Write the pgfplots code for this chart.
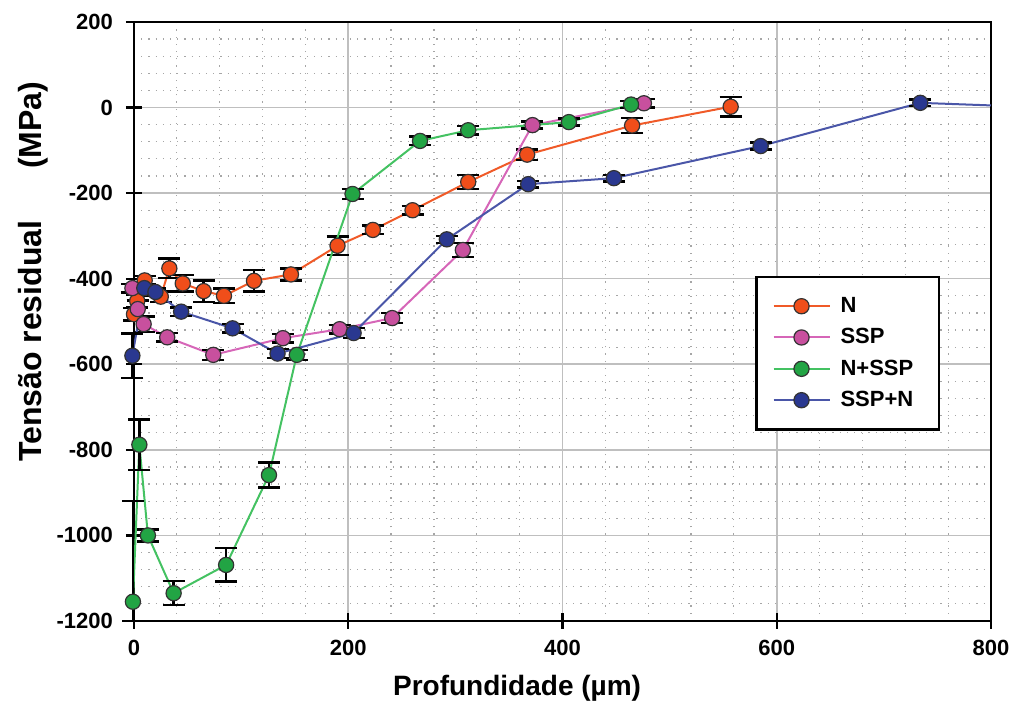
\documentclass[border=0pt]{standalone}
\usepackage{fontspec}
\setmainfont{Liberation Sans}
\usepackage{pgfplots}
\pgfplotsset{compat=1.18}
\usepackage{pgfplotstable}

\definecolor{cN}{HTML}{F05A28}
\definecolor{cNm}{HTML}{F04E1A}
\definecolor{cS}{HTML}{D666B8}
\definecolor{cSm}{HTML}{C8509E}
\definecolor{cG}{HTML}{44C262}
\definecolor{cGm}{HTML}{22A444}
\definecolor{cB}{HTML}{4A56A8}
\definecolor{cBm}{HTML}{2A3890}

\pgfplotstableread{
x y e
0 -483 15
3 -452 15
10 -404 10
25 -442 12
33 -376 23
45.5 -411 19
65 -429 25
84 -440 17
112 -405 25
146.5 -390 14
190 -323 22
223 -286 10
260 -240 10
312 -174 16
367 -110 12
465 -42 17
557 2 23
}\dataN

\pgfplotstableread{
x y e
-1.5 -422 10
3.5 -471 20
9 -506 18
31 -537 10
74 -578 12
139 -539 10
192 -518 10
241 -492 12
307 -333 16
372 -41 8
476 10 10
}\dataS

\pgfplotstableread{
x y ep em
-1 -1155 235 45
5 -788 59 59
13 -1000 14 14
37 -1135 28 28
86 -1069 39 39
126 -859 29 29
152 -578 12 12
204 -202 12 12
267 -78 10 10
312 -53 10 10
406 -34 8 8
464 7 8 8
}\dataG

\pgfplotstableread{
x y e
-1.5 -580 52
9.6 -422 8
20 -431 8
44 -477 10
92 -516 10
134 -575 10
205 -527 12
292 -308 8
368 -179 8
448 -165 8
585 -90 8
734 11 8
}\dataB

\begin{document}
\begin{tikzpicture}
\useasboundingbox (-67pt,-41.5pt) rectangle (442pt,310.5pt);
\begin{axis}[
  scale only axis,
  clip=false,
  width=428.5pt, height=299.5pt,
  xmin=0, xmax=800, ymin=-1200, ymax=200,
  xtick={0,200,...,800},
  ytick={-1200,-1000,...,200},
  minor x tick num=4, minor y tick num=4,
  grid=both,
  major grid style={black!25, line width=0.8pt},
  minor grid style={black!35, dash pattern=on 0.6pt off 3pt, line width=0.6pt},
  axis line style={black, line width=1.2pt},
  tick pos=left,
  tick align=center,
  major tick length=8pt,
  minor tick length=0pt,
  tick style={black, line width=1.1pt},
  /pgf/number format/assume math mode=true,
  /pgf/number format/1000 sep={},
  ticklabel style={font=\fontsize{11}{13}\selectfont\bfseries},
  yticklabel style={xshift=-3pt},
  xticklabel style={yshift=-2pt},
  xlabel={Profundidade (µm)},
  ylabel={Tensão residual\hspace{26pt}(MPa)},
  xlabel style={font=\fontsize{14}{16}\selectfont\bfseries, at={(axis description cs:0.447,-0.112)}, anchor=center},
  ylabel style={font=\fontsize{16}{18}\selectfont\bfseries, at={(axis description cs:-0.117,0.583)}, anchor=center},
  legend style={at={(rel axis cs:0.725,0.576)}, anchor=north west,
    draw=black, line width=1.2pt, inner xsep=8pt, inner ysep=8pt,
    row sep=2.5pt, font=\fontsize{11}{13}\selectfont\bfseries,
    nodes={inner xsep=5pt}},
  legend cell align=left,
  legend image code/.code={\draw[mark repeat=2,mark phase=2] plot coordinates {(0pt,0pt) (14pt,0pt) (28pt,0pt)};},
  every axis plot/.append style={line width=1pt, mark=*, mark size=3.8pt},
  error bars/error bar style={black, line width=1.2pt},
  error bars/error mark options={rotate=90, mark size=5.5pt, black, line width=1.2pt},
]
\addplot[cN, line width=1pt, mark options={fill=cNm, draw=black!80, line width=0.6pt},
  error bars/.cd, y dir=both, y explicit]
  table[x=x, y=y, y error=e]{\dataN};
\addlegendentry{N}
\addplot[cS, line width=1pt, mark options={fill=cSm, draw=black!80, line width=0.6pt},
  error bars/.cd, y dir=both, y explicit]
  table[x=x, y=y, y error=e]{\dataS};
\addlegendentry{SSP}
\addplot[cG, line width=1pt, mark options={fill=cGm, draw=black!80, line width=0.6pt},
  error bars/.cd, y dir=both, y explicit]
  table[x=x, y=y, y error plus=ep, y error minus=em]{\dataG};
\addlegendentry{N+SSP}
\addplot[cB, line width=1pt, mark options={fill=cBm, draw=black!80, line width=0.6pt},
  error bars/.cd, y dir=both, y explicit]
  table[x=x, y=y, y error=e]{\dataB};
\addlegendentry{SSP+N}
\addplot[cB, line width=1pt, no markers, forget plot] coordinates {(734,11) (800,5)};
\end{axis}
\end{tikzpicture}
\end{document}
